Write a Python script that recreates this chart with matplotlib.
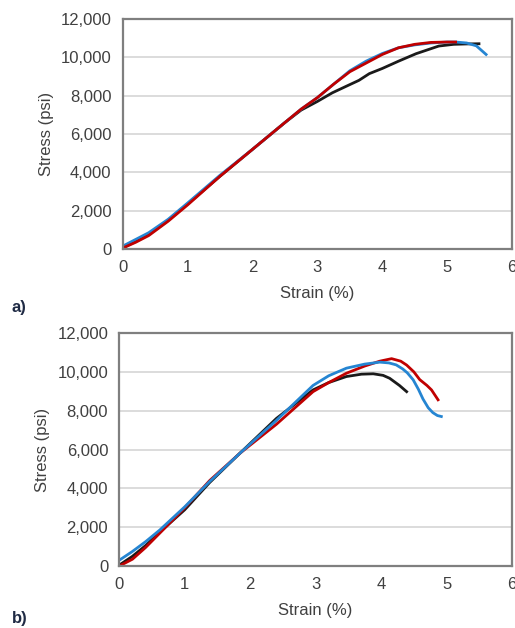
import matplotlib.pyplot as plt
from matplotlib.ticker import FuncFormatter
import numpy as np

plt.rcParams['font.family'] = ['Liberation Sans', 'DejaVu Sans']

# a) strain (%) / stress (ksi)
a_red_x = [0, 0.2, 0.4, 0.7, 1.0, 1.5, 2.0, 2.5, 2.75, 3.0, 3.25, 3.5, 3.75, 4.0, 4.25, 4.5, 4.75, 5.0, 5.13]
a_red_y = [0.05, 0.35, 0.7, 1.45, 2.3, 3.8, 5.2, 6.6, 7.3, 7.9, 8.6, 9.25, 9.7, 10.15, 10.5, 10.68, 10.78, 10.8, 10.8]
a_blue_x = [0, 0.2, 0.4, 0.7, 1.0, 1.5, 2.0, 2.5, 2.75, 3.0, 3.25, 3.5, 3.75, 4.0, 4.25, 4.5, 4.75, 5.0, 5.13, 5.3, 5.45, 5.6]
a_blue_y = [0.15, 0.5, 0.85, 1.55, 2.4, 3.85, 5.2, 6.6, 7.3, 7.9, 8.6, 9.3, 9.8, 10.2, 10.5, 10.65, 10.75, 10.8, 10.8, 10.75, 10.6, 10.15]
a_blk_x = [0, 0.2, 0.4, 0.7, 1.0, 1.5, 2.0, 2.5, 2.75, 3.0, 3.23, 3.45, 3.64, 3.8, 4.0, 4.25, 4.52, 4.87, 5.1, 5.3, 5.49]
a_blk_y = [0.05, 0.4, 0.75, 1.5, 2.35, 3.8, 5.2, 6.6, 7.25, 7.7, 8.15, 8.5, 8.8, 9.15, 9.42, 9.8, 10.19, 10.59, 10.68, 10.7, 10.71]

# b)
b_red_x = [0, 0.2, 0.4, 0.62, 1.0, 1.38, 1.84, 2.4, 2.96, 3.2, 3.47, 3.75, 3.98, 4.16, 4.3, 4.39, 4.5, 4.59, 4.7, 4.77, 4.87]
b_red_y = [0.0, 0.35, 0.95, 1.7, 3.0, 4.4, 5.8, 7.3, 8.98, 9.45, 9.93, 10.3, 10.55, 10.68, 10.55, 10.35, 10.0, 9.6, 9.3, 9.07, 8.56]
b_blue_x = [0, 0.2, 0.4, 0.62, 1.0, 1.38, 1.84, 2.4, 2.96, 3.2, 3.47, 3.75, 3.98, 4.12, 4.23, 4.33, 4.4, 4.49, 4.57, 4.64, 4.72, 4.79, 4.86, 4.92]
b_blue_y = [0.3, 0.75, 1.25, 1.86, 3.05, 4.35, 5.8, 7.5, 9.3, 9.8, 10.19, 10.4, 10.5, 10.46, 10.36, 10.15, 9.95, 9.59, 9.1, 8.6, 8.15, 7.9, 7.75, 7.7]
b_blk_x = [0, 0.2, 0.4, 0.62, 1.0, 1.38, 1.84, 2.4, 2.96, 3.2, 3.47, 3.7, 3.88, 4.03, 4.13, 4.28, 4.39]
b_blk_y = [0.05, 0.5, 1.05, 1.75, 2.9, 4.3, 5.8, 7.6, 9.07, 9.45, 9.76, 9.88, 9.9, 9.82, 9.67, 9.3, 8.98]

x_ticks = [0, 1, 2, 3, 4, 5, 6]
y_ticks = [0, 2000, 4000, 6000, 8000, 10000, 12000]

RED = '#c00000'
BLUE = '#2585d2'
BLK = '#1a1a1a'
TXT = '#404040'

fig = plt.figure(figsize=(5.15, 6.28), dpi=100)
ax1 = fig.add_axes([0.2383, 0.6035, 0.756, 0.3662])
ax2 = fig.add_axes([0.2317, 0.0987, 0.7625, 0.371])


def style(ax):
    ax.set_xlim(0, 6)
    ax.set_ylim(0, 12000)
    ax.set_xticks(x_ticks)
    ax.set_yticks(y_ticks)
    ax.yaxis.set_major_formatter(FuncFormatter(lambda v, p: f'{int(v):,}'))
    ax.grid(axis='y', color='#d9d9d9', lw=1.3)
    ax.set_axisbelow(True)
    for s in ax.spines.values():
        s.set_color('#7f7f7f')
        s.set_linewidth(1.6)
    ax.tick_params(length=0, labelsize=12, labelcolor=TXT, pad=8)
    ax.set_xlabel('Strain (%)', fontsize=12, color=TXT, labelpad=8)
    ax.set_ylabel('Stress (psi)', fontsize=12, color=TXT, labelpad=5)


lw = 2.0
ax1.plot(a_blk_x, np.array(a_blk_y) * 1000, color=BLK, lw=lw)
ax1.plot(a_blue_x, np.array(a_blue_y) * 1000, color=BLUE, lw=lw)
ax1.plot(a_red_x, np.array(a_red_y) * 1000, color=RED, lw=lw)
style(ax1)

ax2.plot(b_blk_x, np.array(b_blk_y) * 1000, color=BLK, lw=lw)
ax2.plot(b_red_x, np.array(b_red_y) * 1000, color=RED, lw=lw)
ax2.plot(b_blue_x, np.array(b_blue_y) * 1000, color=BLUE, lw=lw)
style(ax2)

fig.text(12 / 515, 1 - 307 / 628, 'a)', fontsize=12, fontweight='bold', color='#1f2a44', va='center')
fig.text(12 / 515, 1 - 619 / 628, 'b)', fontsize=12, fontweight='bold', color='#1f2a44', va='center')

fig.savefig('out.png', dpi=100)
